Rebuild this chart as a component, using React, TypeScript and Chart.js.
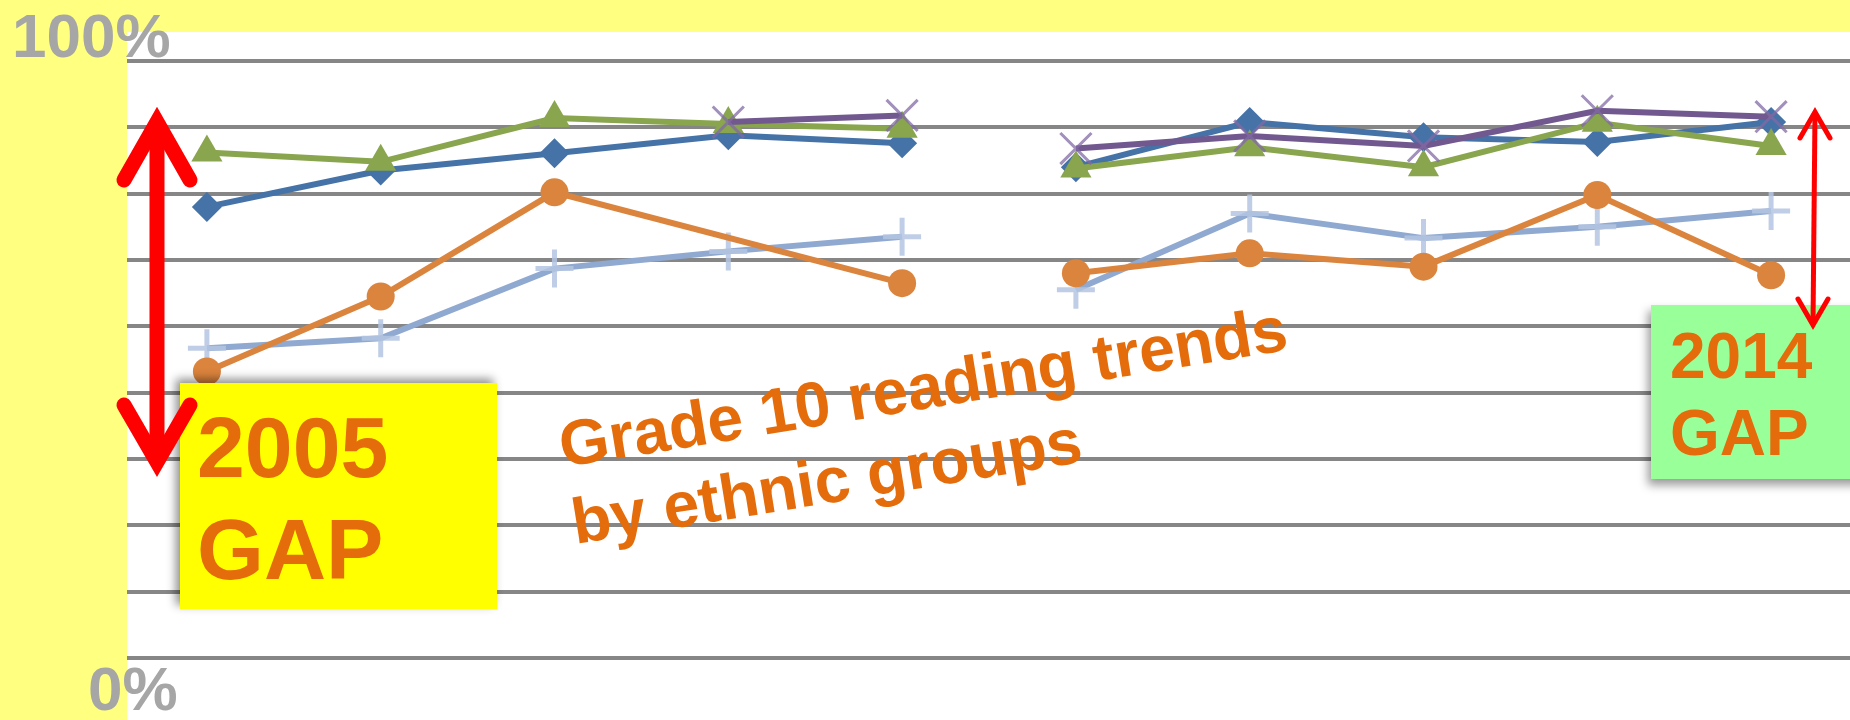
import React, { useEffect, useRef } from 'react';
import { Chart, registerables } from 'chart.js';

Chart.register(...registerables);

// ---- data ----
const years = ['2005', '2006', '2007', '2008', '2009', '2010', '2011', '2012', '2013', '2014'];
const purpleSeries = [null, null, null, 90.8, 91.8, 86.8, 88.7, 87.2, 92.5, 91.6];
const orangeSeries = [53.2, 64.5, 80.2, null, 66.5, 68, 71, 69, 79.8, 67.7];
const lightBlueSeries = [56.7, 58.2, 68.7, 71.3, 73.5, 65.5, 77, 73.3, 75, 77.4];
const greenSeries = [86.2, 84.8, 91.4, 90.5, 89.8, 83.8, 87, 84, 90.7, 87.2];
const blueSeries = [78, 83.5, 86.1, 88.8, 87.6, 84, 90.8, 88.5, 87.8, 90.8];
const yMin = 10;
const yMax = 100;
const yStep = 10;
const breakAfterIndex = 4; // line is broken between 2009 and 2010

const topLabel = '100%';
const bottomLabel = '0%';
const gap2005 = ['2005', 'GAP'];
const gap2014 = ['2014', 'GAP'];
const titleLines = ['Grade 10 reading trends', 'by ethnic groups'];

const ORANGE_TEXT = '#E46C0A';
const FONT = "'Liberation Sans', Arial, sans-serif";

function segmentFor(spanColor?: string) {
  return {
    borderColor: (ctx: any) => {
      if (ctx.p0DataIndex === breakAfterIndex) return 'rgba(0,0,0,0)';
      if (spanColor && ctx.p1DataIndex - ctx.p0DataIndex > 1) return spanColor;
      return undefined;
    },
    borderWidth: (ctx: any) => {
      if (spanColor && ctx.p1DataIndex - ctx.p0DataIndex > 1) return 7;
      return undefined;
    },
  };
}

export default function App() {
  const canvasRef = useRef<HTMLCanvasElement | null>(null);

  useEffect(() => {
    if (!canvasRef.current) return;
    const chart = new Chart(canvasRef.current, {
      type: 'line',
      data: {
        labels: years,
        datasets: [
          {
            label: 'purple',
            data: purpleSeries,
            borderColor: '#71588F',
            borderWidth: 6,
            pointStyle: 'crossRot',
            pointRadius: 22,
            pointBorderWidth: 3,
            pointBorderColor: 'rgba(130,105,165,0.75)',
            pointBackgroundColor: 'rgba(0,0,0,0)',
            spanGaps: true,
            segment: segmentFor(),
          },
          {
            label: 'orange',
            data: orangeSeries,
            borderColor: '#DB843D',
            borderWidth: 6,
            pointStyle: 'circle',
            pointRadius: 14,
            pointBorderWidth: 0,
            pointBackgroundColor: '#DB843D',
            spanGaps: true,
            segment: segmentFor('#F79646'),
          },
          {
            label: 'light blue',
            data: lightBlueSeries,
            borderColor: '#8FA9D0',
            borderWidth: 6,
            pointStyle: 'cross',
            pointRadius: 19,
            pointBorderWidth: 5,
            pointBorderColor: 'rgba(180,198,226,0.85)',
            spanGaps: true,
            segment: segmentFor(),
          },
          {
            label: 'green',
            data: greenSeries,
            borderColor: '#89A54E',
            borderWidth: 6,
            pointStyle: 'triangle',
            pointRadius: 18,
            pointBorderWidth: 0,
            pointBackgroundColor: '#89A54E',
            spanGaps: true,
            segment: segmentFor(),
          },
          {
            label: 'blue',
            data: blueSeries,
            borderColor: '#4572A7',
            borderWidth: 6,
            pointStyle: 'rectRot',
            pointRadius: 15,
            pointBorderWidth: 0,
            pointBackgroundColor: '#4572A7',
            spanGaps: true,
            segment: segmentFor(),
          },
        ],
      },
      options: {
        responsive: false,
        animation: false,
        tension: 0,
        layout: { autoPadding: false, padding: { left: 120, top: 61, bottom: 62, right: 0 } },
        plugins: { legend: { display: false }, tooltip: { enabled: false } },
        scales: {
          x: { display: false, offset: true },
          y: {
            min: yMin,
            max: yMax,
            ticks: { stepSize: yStep, display: false },
            grid: { color: '#868686', lineWidth: 4, drawTicks: false },
            border: { display: false },
          },
        },
      } as any,
    });
    return () => chart.destroy();
  }, []);

  return (
    <div
      style={{
        position: 'fixed',
        left: 0,
        top: 0,
        width: 1850,
        height: 720,
        overflow: 'hidden',
        background: '#FFFFFF',
      }}
    >
      <canvas
        ref={canvasRef}
        width={1858}
        height={720}
        style={{ position: 'absolute', left: 0, top: 0, width: 1858, height: 720 }}
      />
      <div style={{ position: 'absolute', left: 0, top: 0, width: 1850, height: 32, background: '#FFFF80' }} />
      <div style={{ position: 'absolute', left: 0, top: 0, width: 127, height: 720, background: '#FFFF80' }} />
      <div
        style={{
          position: 'absolute',
          left: 180,
          top: 383,
          width: 317,
          height: 226,
          background: '#FFFF00',
          boxShadow: '-4px -4px 9px rgba(0,0,0,0.45)',
        }}
      />
      <div
        style={{
          position: 'absolute',
          left: 1651,
          top: 305,
          width: 220,
          height: 174,
          background: '#99FF99',
          boxShadow: '-3px 6px 9px rgba(0,0,0,0.4)',
        }}
      />
      <svg
        width={1850}
        height={720}
        style={{ position: 'absolute', left: 0, top: 0, pointerEvents: 'none' }}
      >
        <g fontFamily={FONT} fontWeight="bold">
          <text x={12} y={57} fontSize={62} fill="#A6A6A6">{topLabel}</text>
          <text x={88} y={710} fontSize={62} fill="#A6A6A6">{bottomLabel}</text>
          <text x={197} y={477} fontSize={86} fill={ORANGE_TEXT}>{gap2005[0]}</text>
          <text x={197} y={579} fontSize={86} fill={ORANGE_TEXT}>{gap2005[1]}</text>
          <text x={1670} y={378} fontSize={64} fill={ORANGE_TEXT}>{gap2014[0]}</text>
          <text x={1670} y={455} fontSize={64} fill={ORANGE_TEXT}>{gap2014[1]}</text>
          <g transform="translate(565,467) rotate(-9.2)">
            <text x={-2} y={0} fontSize={64} fill={ORANGE_TEXT}>{titleLines[0]}</text>
            <text x={-2} y={77.7} fontSize={64} fill={ORANGE_TEXT}>{titleLines[1]}</text>
          </g>
        </g>
        {/* left double arrow */}
        <g stroke="#FF0000" fill="none">
          <line x1={157} y1={122} x2={157} y2={462} strokeWidth={15} />
          <polyline points="124,180 157,122 190,180" strokeWidth={15} strokeLinejoin="miter" strokeLinecap="round" />
          <polyline points="124,405 157,462 190,405" strokeWidth={15} strokeLinejoin="miter" strokeLinecap="round" />
        </g>
        {/* right double arrow */}
        <g stroke="#FF0000" fill="none">
          <line x1={1815} y1={112} x2={1813} y2={325} strokeWidth={5} />
          <polyline points="1800,138 1815,112 1830,138" strokeWidth={5} strokeLinejoin="miter" strokeLinecap="round" />
          <polyline points="1798,299 1813,325 1828,299" strokeWidth={5} strokeLinejoin="miter" strokeLinecap="round" />
        </g>
      </svg>
    </div>
  );
}
